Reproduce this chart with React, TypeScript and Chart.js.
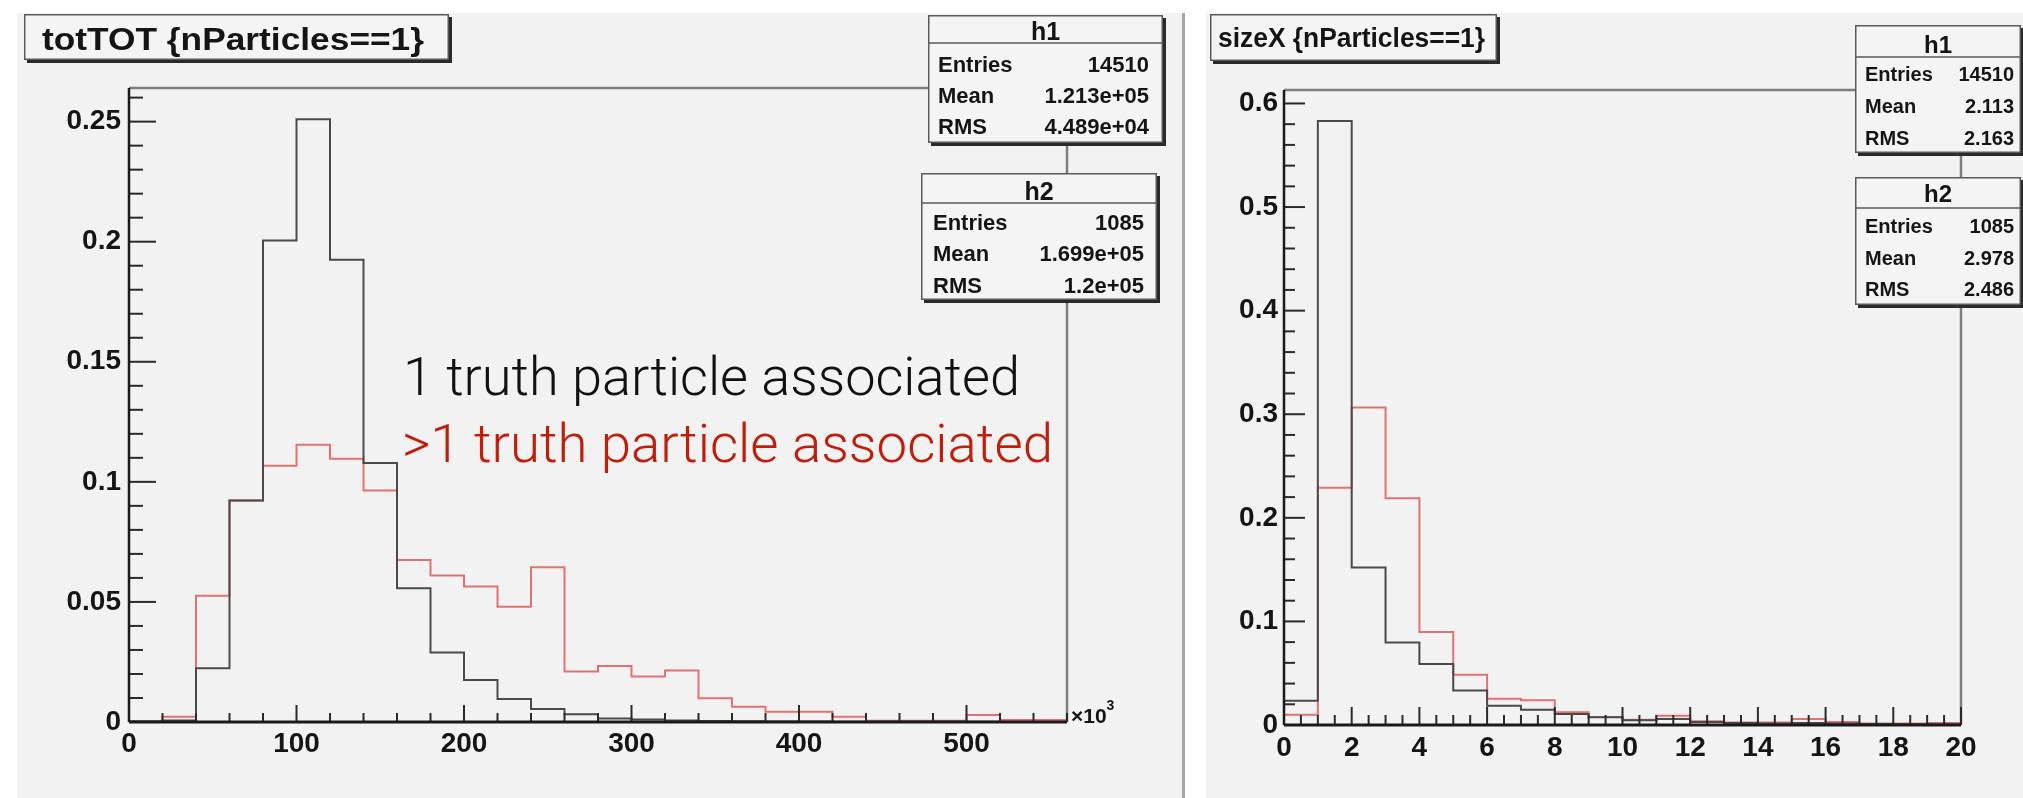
import React, { useEffect, useRef } from 'react';
import { Chart, registerables } from 'chart.js';

Chart.register(...registerables);

// ---------------- data ----------------
const totBinEdges = [0, 20, 40, 60, 80, 100, 120, 140, 160, 180, 200, 220, 240, 260, 280, 300, 320, 340, 360, 380, 400, 420, 440, 460, 480, 500, 520, 540, 560];
const totH1 = [0.0003, 0.0006, 0.0224, 0.0922, 0.2005, 0.251, 0.1925, 0.1078, 0.0557, 0.0289, 0.0175, 0.0096, 0.0054, 0.0032, 0.0015, 0.001, 0.0006, 0.0004, 0.0003, 0.0002, 0.0002, 0.0001, 0.0001, 0.0001, 0.0001, 0.0001, 0, 0];
const totH2 = [0, 0.0022, 0.0526, 0.0922, 0.1067, 0.1154, 0.1096, 0.0964, 0.0675, 0.061, 0.0564, 0.048, 0.0644, 0.021, 0.0233, 0.0189, 0.0214, 0.0099, 0.0064, 0.0043, 0.0043, 0.0022, 0.0005, 0.0005, 0.0005, 0.0029, 0.0008, 0.0008];
const totXTickLabels = ['0', '100', '200', '300', '400', '500'];
const totYTickLabels = ['0', '0.05', '0.1', '0.15', '0.2', '0.25'];

const sizeBinEdges = [0, 1, 2, 3, 4, 5, 6, 7, 8, 9, 10, 11, 12, 13, 14, 15, 16, 17, 18, 19, 20];
const sizeH1 = [0.0235, 0.583, 0.152, 0.0797, 0.059, 0.0334, 0.0186, 0.0148, 0.0106, 0.0074, 0.0045, 0.0058, 0.003, 0.002, 0.0015, 0.002, 0.0015, 0.001, 0.0008, 0.0008];
const sizeH2 = [0.0099, 0.229, 0.3066, 0.219, 0.0898, 0.0486, 0.0254, 0.0238, 0.0122, 0.0077, 0.0051, 0.009, 0.0035, 0.0025, 0.0025, 0.0058, 0.003, 0.0015, 0.0015, 0.002];
const sizeXTickLabels = ['0', '2', '4', '6', '8', '10', '12', '14', '16', '18', '20'];
const sizeYTickLabels = ['0', '0.1', '0.2', '0.3', '0.4', '0.5', '0.6'];

const h1TotStats: [string, string][] = [['Entries', '14510'], ['Mean', '1.213e+05'], ['RMS', '4.489e+04']];
const h2TotStats: [string, string][] = [['Entries', '1085'], ['Mean', '1.699e+05'], ['RMS', '1.2e+05']];
const h1SizeStats: [string, string][] = [['Entries', '14510'], ['Mean', '2.113'], ['RMS', '2.163']];
const h2SizeStats: [string, string][] = [['Entries', '1085'], ['Mean', '2.978'], ['RMS', '2.486']];

const totTitle = 'totTOT {nParticles==1}';
const sizeTitle = 'sizeX {nParticles==1}';
const noteOne = '1 truth particle associated';
const noteMany = '>1 truth particle associated';

// ---------------- styles ----------------
const BG = '#f2f2f2';
const H1_COLOR = '#4a4a4a';
const H2_COLOR = '#e27272';
const FONT = '"Liberation Sans", Arial, Helvetica, sans-serif';

function toPoints(edges: number[], values: number[]) {
  return edges.map((e, i) => ({ x: e, y: values[Math.min(i, values.length - 1)] }));
}

function lookup(labels: string[], v: number) {
  const f = labels.find((l) => Math.abs(Number(l) - v) < 1e-9);
  return f === undefined ? '' : f;
}

function fitText(ctx: CanvasRenderingContext2D, text: string, x: number, baseline: number, width: number, font: string, color: string) {
  ctx.save();
  ctx.font = font;
  ctx.fillStyle = color;
  ctx.textAlign = 'left';
  ctx.textBaseline = 'alphabetic';
  const w = ctx.measureText(text).width || 1;
  ctx.translate(x, baseline);
  ctx.scale(width / w, 1);
  ctx.fillText(text, 0, 0);
  ctx.restore();
}

function drawPave(ctx: CanvasRenderingContext2D, l: number, t: number, r: number, b: number) {
  ctx.save();
  ctx.fillStyle = '#2a2a2a';
  ctx.fillRect(l + 3, t + 3, r - l, b - t);
  ctx.fillStyle = '#f4f4f4';
  ctx.fillRect(l, t, r - l, b - t);
  ctx.strokeStyle = '#5a5a5a';
  ctx.lineWidth = 1.5;
  ctx.strokeRect(l + 0.75, t + 0.75, r - l - 1.5, b - t - 1.5);
  ctx.restore();
}

type StatSpec = {
  name: string; rows: [string, string][]; box: number[]; headerY: number; titleBaseline: number;
  titleSize: number; labelX: number; valueX: number; baselines: number[]; size: number;
};

type Spec = {
  origin: number[]; canvasW: number; canvasH: number; area: { left: number; right: number; top: number; bottom: number };
  edges: number[]; h1: number[]; h2: number[]; xMax: number; yMax: number; xStep: number; yStep: number;
  xLabels: string[]; yLabels: string[]; xPad: number; yPad: number;
  yMajor: number; yMinor: number; yMajorLen: number; yMinorLen: number;
  xMajor: number; xMinor: number; xMajorLen: number; xMinorLen: number;
  title: { text: string; box: number[]; x: number; baseline: number; width: number; size: number };
  stats: StatSpec[];
  notes: { text: string; x: number; baseline: number; width: number; color: string; size: number }[];
  exponent: boolean;
};

function tickValues(max: number, minor: number) {
  const out: number[] = [];
  const n = Math.floor(max / minor + 1e-6);
  for (let i = 0; i <= n; i++) out.push(i * minor);
  return out;
}
function isMajor(v: number, major: number) {
  return Math.abs(v / major - Math.round(v / major)) < 1e-6;
}

function decorPlugin(spec: Spec) {
  return {
    id: 'rootDecor',
    beforeDatasetsDraw(chart: any) {
      const { ctx, chartArea: a } = chart;
      ctx.save();
      ctx.strokeStyle = '#7d7d7d';
      ctx.lineWidth = 2.5;
      ctx.beginPath();
      ctx.moveTo(a.left, a.top);
      ctx.lineTo(a.right, a.top);
      ctx.lineTo(a.right, a.bottom);
      ctx.stroke();
      ctx.restore();
    },
    afterDatasetsDraw(chart: any) {
      const { ctx, chartArea: a } = chart;
      const xs = chart.scales.x;
      const ys = chart.scales.y;
      ctx.save();
      ctx.strokeStyle = '#2a2a2a';
      ctx.lineWidth = 2;
      // y ticks
      for (const v of tickValues(spec.yMax, spec.yMinor)) {
        const py = ys.getPixelForValue(v);
        const len = isMajor(v, spec.yMajor) ? spec.yMajorLen : spec.yMinorLen;
        ctx.beginPath();
        ctx.moveTo(a.left, py);
        ctx.lineTo(a.left + len, py);
        ctx.stroke();
      }
      // x ticks
      for (const v of tickValues(spec.xMax, spec.xMinor)) {
        const px = xs.getPixelForValue(v);
        const len = isMajor(v, spec.xMajor) ? spec.xMajorLen : spec.xMinorLen;
        ctx.beginPath();
        ctx.moveTo(px, a.bottom);
        ctx.lineTo(px, a.bottom - len);
        ctx.stroke();
      }
      // axis lines
      ctx.strokeStyle = '#1a1a1a';
      ctx.lineWidth = 2.5;
      ctx.beginPath();
      ctx.moveTo(a.left, a.top);
      ctx.lineTo(a.left, a.bottom);
      ctx.stroke();
      ctx.lineWidth = 3;
      ctx.beginPath();
      ctx.moveTo(a.left, a.bottom);
      ctx.lineTo(a.right, a.bottom);
      ctx.stroke();
      ctx.restore();
    },
    afterDraw(chart: any) {
      const { ctx } = chart;
      const [ox, oy] = spec.origin;
      ctx.save();
      ctx.translate(-ox, -oy);
      // title pave
      const tb = spec.title.box;
      drawPave(ctx, tb[0], tb[1], tb[2], tb[3]);
      fitText(ctx, spec.title.text, spec.title.x, spec.title.baseline, spec.title.width, `bold ${spec.title.size}px ${FONT}`, '#151515');
      // stats paves
      for (const s of spec.stats) {
        const [l, t, r, b] = s.box;
        drawPave(ctx, l, t, r, b);
        ctx.strokeStyle = '#5a5a5a';
        ctx.lineWidth = 1.5;
        ctx.beginPath();
        ctx.moveTo(l, s.headerY);
        ctx.lineTo(r, s.headerY);
        ctx.stroke();
        ctx.fillStyle = '#151515';
        ctx.textBaseline = 'alphabetic';
        ctx.font = `bold ${s.titleSize}px ${FONT}`;
        ctx.textAlign = 'center';
        ctx.fillText(s.name, (l + r) / 2, s.titleBaseline);
        ctx.font = `bold ${s.size}px ${FONT}`;
        s.rows.forEach((row, i) => {
          ctx.textAlign = 'left';
          ctx.fillText(row[0], s.labelX, s.baselines[i]);
          ctx.textAlign = 'right';
          ctx.fillText(row[1], s.valueX, s.baselines[i]);
        });
      }
      // annotations
      for (const n of spec.notes) {
        fitText(ctx, n.text, n.x, n.baseline, n.width, `300 ${n.size}px Roboto, "Noto Sans", sans-serif`, n.color);
      }
      ctx.restore();
      if (spec.exponent) {
        const a = chart.chartArea;
        ctx.save();
        ctx.fillStyle = '#151515';
        ctx.textAlign = 'left';
        ctx.textBaseline = 'alphabetic';
        ctx.font = `bold 21px ${FONT}`;
        ctx.fillText('\u00d710', a.right + 4, a.bottom + 1);
        const w = ctx.measureText('\u00d710').width;
        ctx.font = `bold 14px ${FONT}`;
        ctx.fillText('3', a.right + 4 + w, a.bottom - 12);
        ctx.restore();
      }
    },
  };
}

function makeChart(canvas: HTMLCanvasElement, spec: Spec) {
  const tickFont = { family: FONT, weight: 'bold' as const, size: 28, lineHeight: 1.2 };
  return new Chart(canvas, {
    type: 'line',
    data: {
      datasets: [
        { data: toPoints(spec.edges, spec.h1), borderColor: H1_COLOR, borderWidth: 2, stepped: 'before', pointRadius: 0, fill: false, tension: 0 } as any,
        { data: toPoints(spec.edges, spec.h2), borderColor: H2_COLOR, borderWidth: 2, stepped: 'before', pointRadius: 0, fill: false, tension: 0 } as any,
      ],
    },
    options: {
      animation: false,
      responsive: false,
      maintainAspectRatio: false,
      devicePixelRatio: 1,
      events: [],
      layout: { padding: { left: 0, top: spec.area.top, right: spec.canvasW - spec.area.right, bottom: 0 } },
      plugins: { legend: { display: false }, tooltip: { enabled: false }, title: { display: false } },
      scales: {
        x: {
          type: 'linear',
          min: 0,
          max: spec.xMax,
          grid: { display: false, drawTicks: false },
          border: { display: false },
          ticks: {
            stepSize: spec.xStep,
            includeBounds: false,
            autoSkip: false,
            maxRotation: 0,
            padding: spec.xPad,
            color: '#151515',
            font: tickFont,
            callback: (v: any) => lookup(spec.xLabels, Number(v)),
          },
          afterFit: (s: any) => { s.height = spec.canvasH - spec.area.bottom; },
        },
        y: {
          type: 'linear',
          min: 0,
          max: spec.yMax,
          grid: { display: false, drawTicks: false },
          border: { display: false },
          ticks: {
            stepSize: spec.yStep,
            includeBounds: false,
            autoSkip: false,
            padding: spec.yPad,
            color: '#151515',
            font: tickFont,
            callback: (v: any) => lookup(spec.yLabels, Number(v)),
          },
          afterFit: (s: any) => { s.width = spec.area.left; },
        },
      },
    } as any,
    plugins: [decorPlugin(spec) as any],
  });
}

const leftSpec: Spec = {
  origin: [17, 13], canvasW: 1165, canvasH: 785,
  area: { left: 112, right: 1050, top: 75, bottom: 709 },
  edges: totBinEdges, h1: totH1, h2: totH2, xMax: 560, yMax: 0.264, xStep: 100, yStep: 0.05,
  xLabels: totXTickLabels, yLabels: totYTickLabels, xPad: 5, yPad: 8,
  yMajor: 0.05, yMinor: 0.01, yMajorLen: 27, yMinorLen: 14,
  xMajor: 100, xMinor: 20, xMajorLen: 17, xMinorLen: 9,
  title: { text: totTitle, box: [24, 14, 449, 60], x: 42, baseline: 50, width: 382, size: 32 },
  stats: [
    { name: 'h1', rows: h1TotStats, box: [928, 15, 1163, 143], headerY: 43, titleBaseline: 40, titleSize: 25, labelX: 938, valueX: 1149, baselines: [72, 103, 134], size: 22 },
    { name: 'h2', rows: h2TotStats, box: [921, 173, 1157, 300], headerY: 203, titleBaseline: 200, titleSize: 25, labelX: 933, valueX: 1144, baselines: [230, 261, 293], size: 22 },
  ],
  notes: [
    { text: noteOne, x: 403, baseline: 395, width: 617, color: '#111111', size: 53 },
    { text: noteMany, x: 402, baseline: 462, width: 651, color: '#c01e0a', size: 53 },
  ],
  exponent: true,
};

const rightSpec: Spec = {
  origin: [1206, 13], canvasW: 817, canvasH: 785,
  area: { left: 78, right: 755, top: 77, bottom: 712 },
  edges: sizeBinEdges, h1: sizeH1, h2: sizeH2, xMax: 20, yMax: 0.613, xStep: 2, yStep: 0.1,
  xLabels: sizeXTickLabels, yLabels: sizeYTickLabels, xPad: 6, yPad: 6,
  yMajor: 0.1, yMinor: 0.02, yMajorLen: 21, yMinorLen: 11,
  xMajor: 2, xMinor: 0.5, xMajorLen: 18, xMinorLen: 10,
  title: { text: sizeTitle, box: [1210, 14, 1497, 61], x: 1218, baseline: 47, width: 267, size: 27 },
  stats: [
    { name: 'h1', rows: h1SizeStats, box: [1855, 25, 2021, 153], headerY: 57, titleBaseline: 53, titleSize: 24, labelX: 1865, valueX: 2014, baselines: [81, 113, 145], size: 20 },
    { name: 'h2', rows: h2SizeStats, box: [1855, 177, 2021, 305], headerY: 208, titleBaseline: 202, titleSize: 24, labelX: 1865, valueX: 2014, baselines: [233, 265, 296], size: 20 },
  ],
  notes: [],
  exponent: false,
};

export default function App() {
  const leftRef = useRef<HTMLCanvasElement>(null);
  const rightRef = useRef<HTMLCanvasElement>(null);

  useEffect(() => {
    const charts: Chart[] = [];
    if (leftRef.current) charts.push(makeChart(leftRef.current, leftSpec));
    if (rightRef.current) charts.push(makeChart(rightRef.current, rightSpec));
    return () => { charts.forEach((c) => c.destroy()); };
  }, []);

  return (
    <div style={{ position: 'fixed', left: 0, top: 0, width: 2023, height: 798, background: '#ffffff', overflow: 'hidden' }}>
      <div style={{ position: 'absolute', left: 17, top: 13, width: 1165, height: 785, background: BG }}>
        <canvas ref={leftRef} width={1165} height={785} style={{ display: 'block', width: 1165, height: 785 }} />
      </div>
      <div style={{ position: 'absolute', left: 1182, top: 13, width: 3, height: 785, background: '#a6a6a6' }} />
      <div style={{ position: 'absolute', left: 1206, top: 13, width: 817, height: 785, background: BG }}>
        <canvas ref={rightRef} width={817} height={785} style={{ display: 'block', width: 817, height: 785 }} />
      </div>
    </div>
  );
}
